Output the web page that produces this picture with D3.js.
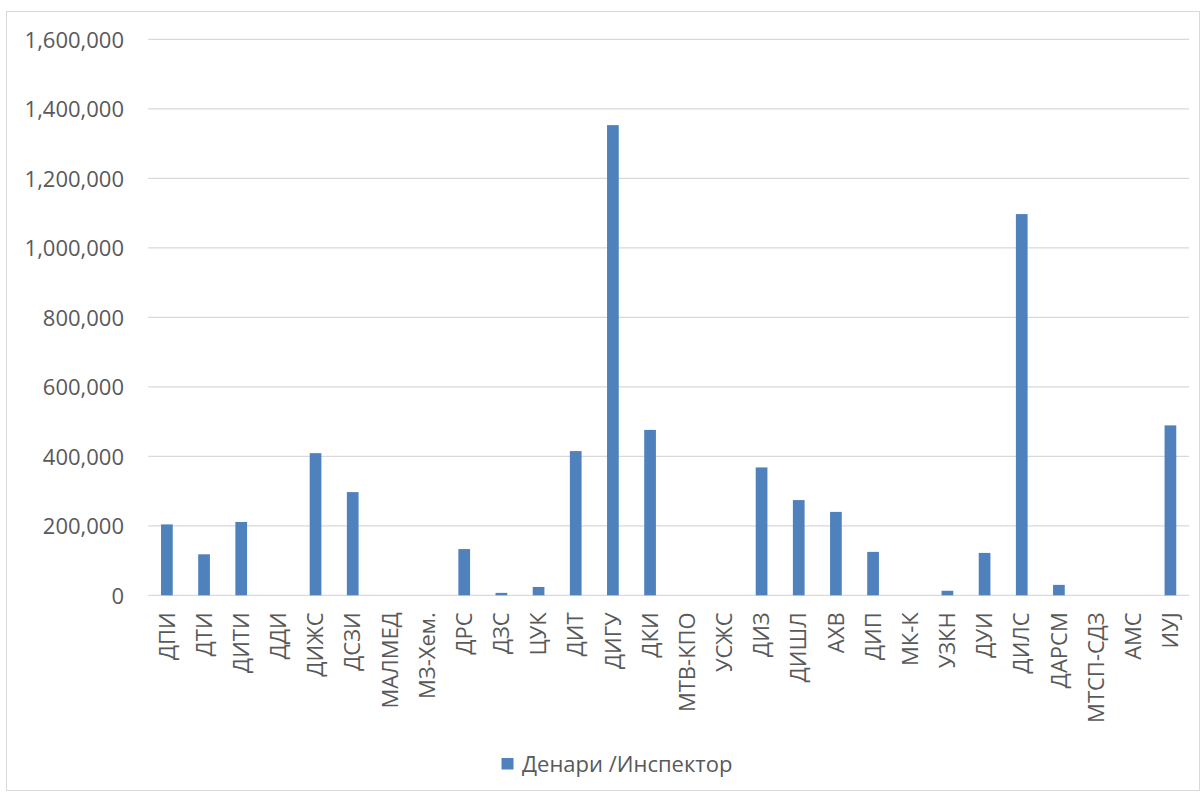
<!DOCTYPE html>
<html>
<head>
<meta charset="utf-8">
<script src="https://cdn.jsdelivr.net/npm/d3@7"></script>
<style>
  html, body { margin: 0; padding: 0; background: #fff; }
  svg { display: block; }
  text { font-family: "Open Sans", "Liberation Sans", sans-serif; fill: #595959; }
</style>
</head>
<body>
<svg id="chart" width="1202" height="792"></svg>
<script>
const categories = ["ДПИ","ДТИ","ДИТИ","ДДИ","ДИЖС","ДСЗИ","МАЛМЕД","МЗ-Хем.","ДРС","ДЗС","ЦУК","ДИТ","ДИГУ","ДКИ","МТВ-КПО","УСЖС","ДИЗ","ДИШЛ","АХВ","ДИП","МК-К","УЗКН","ДУИ","ДИЛС","ДАРСМ","МТСП-СДЗ","АМС","ИУЈ"];
const values = [204000,118000,211000,0,409000,297000,0,0,133000,7000,24000,415000,1353000,476000,0,0,368000,274000,240000,125000,0,13000,122000,1097000,30000,0,0,489000];
const yTicks = [0,200000,400000,600000,800000,1000000,1200000,1400000,1600000];
const seriesName = "Денари /Инспектор";

const svg = d3.select("#chart");
const margin = {left: 148.3, right: 1189, top: 39.3, bottom: 595.3};
const FS = 22;

svg.append("rect").attr("x", 6.5).attr("y", 11.5).attr("width", 1193).attr("height", 779)
  .attr("fill", "#fff").attr("stroke", "#d9d9d9").attr("stroke-width", 1);

const x = d3.scaleBand().domain(categories).range([margin.left, margin.right]).paddingInner(0.685).paddingOuter(0.3425);
const y = d3.scaleLinear().domain([0, 1600000]).range([margin.bottom, margin.top]);

// gridlines
svg.append("g").selectAll("line").data(yTicks).join("line")
  .attr("x1", margin.left).attr("x2", margin.right)
  .attr("y1", d => y(d)).attr("y2", d => y(d))
  .attr("stroke", "#d9d9d9").attr("stroke-width", 1.3);

// y axis labels
const yAxis = d3.axisLeft(y).tickValues(yTicks).tickFormat(d3.format(",")).tickSize(0).tickPadding(0);
const gy = svg.append("g").attr("transform", "translate(124,0)").call(yAxis);
gy.select(".domain").remove();
gy.selectAll("text").attr("font-size", FS).attr("fill", "#595959")
  .style("font-family", "'Open Sans', 'Liberation Sans', sans-serif").attr("dy", "0.35em");

// bars
svg.append("g").selectAll("rect").data(values).join("rect")
  .attr("x", (d, i) => x(categories[i]))
  .attr("width", x.bandwidth())
  .attr("y", d => y(d))
  .attr("height", d => y(0) - y(d))
  .attr("fill", "#4f81bd");

// x axis labels
const xAxis = d3.axisBottom(x).tickSize(0).tickPadding(0);
const gx = svg.append("g").attr("transform", `translate(0,${margin.bottom})`).call(xAxis);
gx.select(".domain").remove();
gx.selectAll("text")
  .attr("font-size", FS).attr("fill", "#595959")
  .style("font-family", "'Open Sans', 'Liberation Sans', sans-serif")
  .attr("text-anchor", "end")
  .attr("transform", "rotate(-90)")
  .attr("x", -17).attr("y", 0).attr("dy", "0.35em");

// legend
const lg = svg.append("g").attr("transform", "translate(501.5,758)");
lg.append("rect").attr("width", 12).attr("height", 11.5).attr("fill", "#4f81bd");
lg.append("text").attr("x", 20.5).attr("y", 6).attr("dy", "0.35em").attr("font-size", FS).text(seriesName);
</script>
</body>
</html>
